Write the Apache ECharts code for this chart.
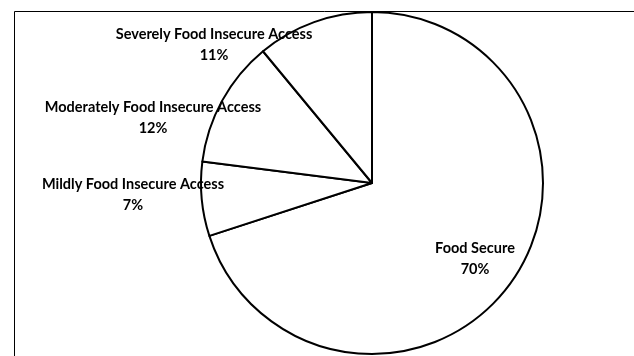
<!DOCTYPE html>
<html>
<head>
<meta charset="utf-8">
<script src="https://cdn.jsdelivr.net/npm/echarts@6/dist/echarts.min.js"></script>
<style>
html,body{margin:0;padding:0;background:#fff;}
#c{width:634px;height:356px;}
</style>
</head>
<body>
<div id="c"></div>
<script>
const categories = ['Food Secure', 'Mildly Food Insecure Access', 'Moderately Food Insecure Access', 'Severely Food Insecure Access'];
const values = [70, 7, 12, 11];

const labelSpots = [[475, 259], [133, 195], [153, 118], [214, 45]];

const chart = echarts.init(document.getElementById('c'), null, {renderer: 'canvas'});
chart.setOption({
  animation: false,
  backgroundColor: '#fff',
  graphic: [{
    type: 'rect',
    shape: {x: 14.5, y: 11.5, width: 700, height: 400},
    style: {fill: null, stroke: '#000', lineWidth: 1},
    z: 0
  }],
  series: [{
    type: 'pie',
    center: [372, 183],
    radius: [0, 171],
    startAngle: 90,
    clockwise: true,
    silent: true,
    z: 5,
    data: categories.map((c, i) => ({name: c, value: values[i]})),
    itemStyle: {color: '#fff', borderColor: '#000', borderWidth: 2},
    label: {
      show: true,
      position: 'outside',
      alignTo: 'none',
      overflow: 'none',
      formatter: '{b}\n{d}%',
      fontFamily: 'Lato',
      fontWeight: 'bold',
      fontSize: 14.5,
      lineHeight: 21,
      color: '#000',
      align: 'center'
    },
    labelLine: {show: false},
    labelLayout: function (p) {
      const s = labelSpots[p.dataIndex];
      return {x: s[0], y: s[1], align: 'center', verticalAlign: 'middle'};
    },
    emphasis: {disabled: true}
  }]
});
</script>
</body>
</html>
